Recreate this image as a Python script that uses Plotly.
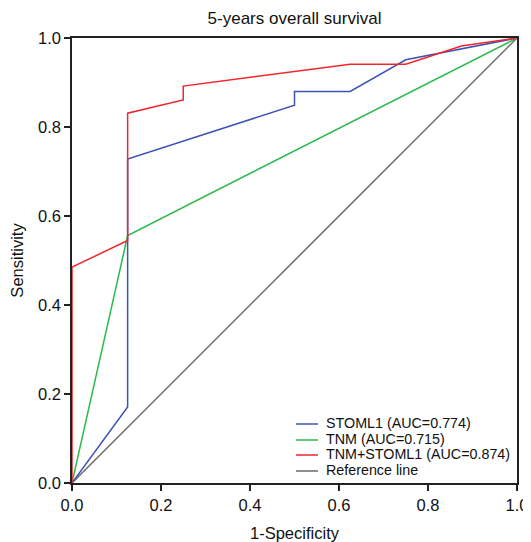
import plotly.graph_objects as go

# Data
stoml1_fpr = [0.0, 0.125, 0.125, 0.5, 0.5, 0.625, 0.75, 0.875, 1.0]
stoml1_tpr = [0.0, 0.171, 0.728, 0.849, 0.88, 0.88, 0.951, 0.975, 1.0]

tnm_fpr = [0.0, 0.125, 1.0]
tnm_tpr = [0.0, 0.556, 1.0]

comb_fpr = [0.0, 0.0, 0.125, 0.125, 0.25, 0.25, 0.625, 0.75, 0.875, 1.0]
comb_tpr = [0.0, 0.485, 0.545, 0.831, 0.861, 0.892, 0.941, 0.941, 0.982, 1.0]

ref_fpr = [0.0, 1.0]
ref_tpr = [0.0, 1.0]

names = ["STOML1 (AUC=0.774)", "TNM (AUC=0.715)", "TNM+STOML1 (AUC=0.874)", "Reference line"]
colors = ["#3b54b5", "#2cb94c", "#f1262c", "#6b6b6b"]

ticks = [0.0, 0.2, 0.4, 0.6, 0.8, 1.0]
tick_text = ["0.0", "0.2", "0.4", "0.6", "0.8", "1.0"]

W, H = 523, 534  # page body has an 8px margin
L, R, T, B = 64, 14, 30, 59

fig = go.Figure()
series = [
    (ref_fpr, ref_tpr, 3),
    (tnm_fpr, tnm_tpr, 1),
    (stoml1_fpr, stoml1_tpr, 0),
    (comb_fpr, comb_tpr, 2),
]
for xs, ys, i in series:
    fig.add_trace(go.Scatter(x=xs, y=ys, mode="lines", name=names[i],
                             line=dict(color=colors[i], width=1.5), showlegend=False))

# Manual compact legend (entries in legend order)
plot_w = W - L - R
plot_h = H - T - B
def px_x(p):
    return (p - L) / plot_w
def px_y(p):
    return 1 - (p - T) / plot_h
row_y = [415, 431, 446, 462]  # pixel centres within the figure
for i in range(4):
    fig.add_shape(type="line", xref="paper", yref="paper",
                  x0=px_x(288), x1=px_x(310), y0=px_y(row_y[i] + 1), y1=px_y(row_y[i] + 1),
                  line=dict(color=colors[i], width=1.5))
    fig.add_annotation(text=names[i], xref="paper", yref="paper",
                       x=px_x(317), y=px_y(row_y[i]), xanchor="left", yanchor="middle",
                       showarrow=False, font=dict(size=14.3, color="#111111"),
                       borderpad=0)

axis_common = dict(
    range=[0, 1], tickvals=ticks, ticktext=tick_text, automargin=False,
    showgrid=False, zeroline=False, showline=True, linecolor="#222222",
    linewidth=1.5, mirror=True, ticks="outside", ticklen=6, tickwidth=1.5,
    tickcolor="#222222", tickfont=dict(size=16.5, color="#111111"),
)

fig.update_layout(
    width=W, height=H,
    margin=dict(l=L, r=R, t=T, b=B, autoexpand=False),
    paper_bgcolor="white", plot_bgcolor="white",
    font=dict(family="Liberation Sans, Arial, sans-serif", color="#111111"),
    title=dict(text="5-years overall survival", x=0.5, xref="paper",
               y=1 - 10 / H, yref="container", xanchor="center", yanchor="middle",
               font=dict(size=17)),
    xaxis=dict(axis_common, title=dict(text="1-Specificity", font=dict(size=16.5), standoff=18)),
    yaxis=dict(axis_common, title=dict(text="Sensitivity", font=dict(size=16.5), standoff=12)),
    showlegend=False,
)

fig.write_html("out.html")
